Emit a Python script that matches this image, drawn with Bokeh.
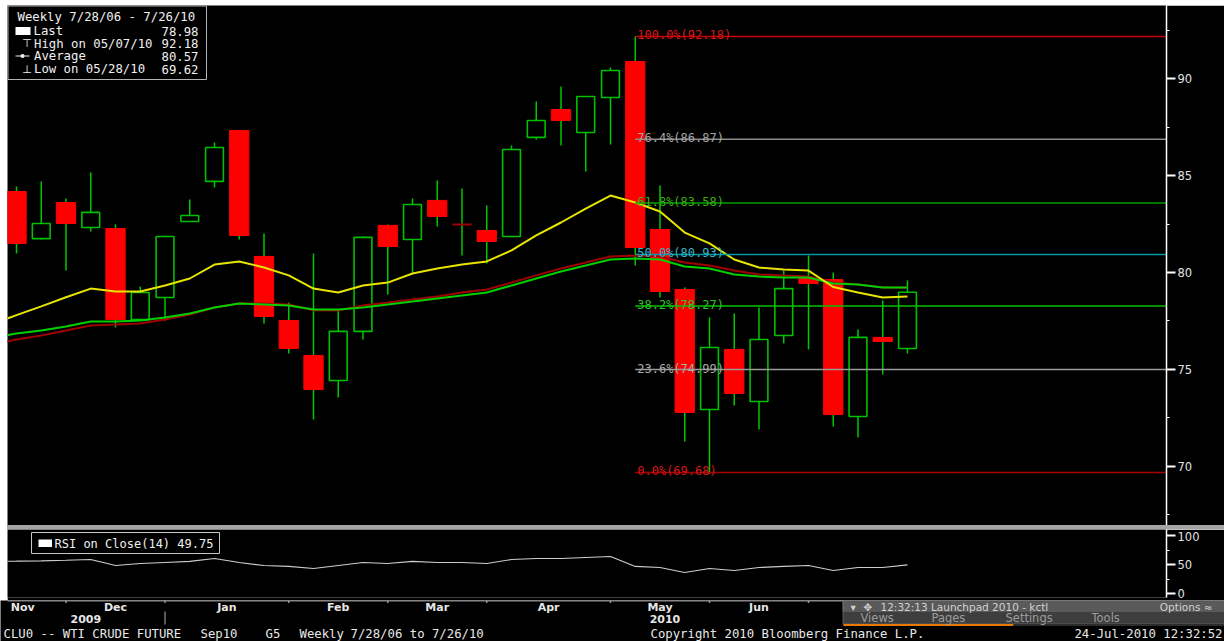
from bokeh.plotting import figure
from bokeh.models import Range1d, FixedTicker, ColumnDataSource, Div
from bokeh.layouts import column
from bokeh.embed import file_html
from bokeh.resources import INLINE
from bokeh.core.properties import value

# ---------------- data (weekly CLU0 candles) ----------------
opens  = [84.18, 81.75, 83.61, 82.32, 82.27, 77.57, 78.71, 82.63, 84.70, 87.33,
          80.83, 77.52, 75.72, 74.43, 76.96, 82.43, 81.70, 83.72, 82.48, 82.17,
          81.86, 86.97, 88.41, 87.22, 89.03, 90.89, 82.22, 79.12, 72.93, 76.03,
          73.34, 76.75, 79.69, 79.64, 72.57, 76.65, 76.08]
highs  = [84.44, 84.70, 83.82, 85.16, 82.48, 79.28, 81.90, 83.77, 86.71, 87.33,
          82.01, 78.45, 80.98, 78.04, 81.86, 82.48, 83.82, 84.75, 84.33, 83.46,
          86.55, 88.82, 89.60, 89.10, 90.58, 92.18, 84.49, 79.23, 77.68, 77.88,
          78.19, 80.10, 80.88, 80.00, 77.06, 78.56, 79.59]
lows   = [80.98, 81.70, 80.10, 82.12, 77.16, 77.52, 77.52, 82.63, 84.39, 81.70,
          77.37, 75.82, 72.41, 73.55, 76.54, 78.86, 79.95, 82.37, 80.88, 80.46,
          81.86, 86.86, 86.55, 85.21, 86.60, 80.36, 78.71, 71.28, 69.62, 73.14,
          71.90, 76.34, 76.03, 72.05, 71.49, 74.74, 75.82]
closes = [81.50, 82.53, 82.53, 83.10, 77.57, 78.97, 81.86, 82.94, 86.45, 81.91,
          77.73, 76.08, 73.96, 76.96, 81.81, 81.34, 83.51, 82.89, 82.48, 81.60,
          86.35, 87.84, 87.84, 89.08, 90.42, 81.29, 79.02, 72.78, 76.13, 73.76,
          76.54, 79.17, 79.43, 72.67, 76.65, 76.44, 78.98]

# moving averages / RSI (first point is the week just left of the visible window)
ma_fast = [77.33, 77.80, 78.25, 78.72, 79.17, 79.02, 79.02, 79.33, 79.69, 80.41,
           80.57, 80.26, 79.85, 79.17, 78.97, 79.33, 79.48, 79.95, 80.21, 80.41,
           80.57, 81.14, 81.91, 82.58, 83.30, 83.97, 83.61, 83.15, 82.06, 81.50,
           80.67, 80.26, 80.15, 80.10, 79.25, 78.97, 78.71, 78.76]
ma_mid  = [76.61, 76.85, 77.01, 77.21, 77.47, 77.47, 77.52, 77.68, 77.88, 78.19,
           78.40, 78.35, 78.30, 78.09, 78.09, 78.19, 78.35, 78.50, 78.66, 78.81,
           78.97, 79.33, 79.69, 80.05, 80.36, 80.67, 80.72, 80.67, 80.31, 80.21,
           79.90, 79.79, 79.74, 79.74, 79.43, 79.38, 79.23, 79.23]
ma_slow = [76.28, 76.54, 76.75, 77.01, 77.27, 77.32, 77.37, 77.57, 77.83, 78.19,
           78.40, 78.40, 78.35, 78.05, 78.04, 78.30, 78.45, 78.61, 78.76, 78.97,
           79.12, 79.48, 79.85, 80.21, 80.52, 80.83, 80.88, 80.83, 80.52, 80.36,
           80.10, 79.90, 79.85, 79.79, 79.48, 79.38, 79.23, 79.23]
rsi     = [56.0, 56.2, 56.9, 57.8, 59.1, 48.7, 52.2, 53.9, 55.7, 60.9,
           53.9, 48.7, 47.0, 43.5, 48.7, 53.9, 52.2, 55.7, 53.9, 53.9,
           52.2, 59.1, 60.9, 60.9, 62.6, 64.3, 47.0, 45.2, 36.5, 43.5,
           40.0, 45.2, 47.0, 48.7, 40.0, 45.2, 45.2, 49.75]

fib_pct   = ["100.0%", "76.4%", "61.8%", "50.0%", "38.2%", "23.6%", "0.0%"]
fib_level = [92.18, 86.87, 83.58, 80.93, 78.27, 74.99, 69.68]

price_ticks = [70, 75, 80, 85, 90]
price_minor = [67.5, 72.5, 77.5, 82.5, 87.5, 92.5]
rsi_ticks = [0, 50, 100]
rsi_minor = [25, 75]

month_labels = ["Nov", "Dec", "Jan", "Feb", "Mar", "Apr", "May", "Jun"]
month_label_pos = [0.25, 4.0, 8.5, 13.0, 17.0, 21.5, 26.0, 30.0]
month_ticks = [2, 6, 11, 15, 19, 24, 28, 32]
year_labels = ["2009", "2010"]
year_label_pos = [2.8, 26.2]
year_break = 6

legend_title = "Weekly 7/28/06 - 7/26/10"
legend_names = ["Last", "High on 05/07/10", "Average", "Low on 05/28/10"]
legend_values = ["78.98", "92.18", "80.57", "69.62"]
rsi_title = "RSI on Close(14) 49.75"

footer_left = ["CLU0 -- WTI CRUDE FUTURE", "Sep10", "G5", "Weekly", "7/28/06 to 7/26/10"]
footer_copy = "Copyright 2010 Bloomberg Finance L.P."
footer_time = "24-Jul-2010 12:32:52"
launch_title = "12:32:13  Launchpad 2010 - kctl"
launch_tabs = ["Views", "Pages", "Settings", "Tools"]

# ---------------- styles / layout ----------------
FIB_LINE = ["#c80000", "#8c8c8c", "#00a000", "#0098a8", "#00c000", "#9a9a9a", "#a80000"]
FIB_TEXT = ["#d81818", "#a6a6a6", "#3cae10", "#38b4c8", "#2cc42c", "#aaaaaa", "#d81818"]
MONO = value("DejaVu Sans Mono")
SANS = value("DejaVu Sans")

X0, X1 = -0.364, 46.465        # candle-index range of the frame
P0, P1 = 66.945, 93.777        # price range of the frame
R0, R1 = -6.96, 111.3          # RSI range of the frame
FW, RB = 1159, 58              # frame width, right border
PPU = FW / (X1 - X0)

def style_axis(ax, ticks, minor):
    ax.ticker = FixedTicker(ticks=ticks, minor_ticks=minor)
    ax.axis_line_color = "white"
    ax.axis_line_width = 1.5
    ax.major_tick_line_color = "white"
    ax.major_tick_line_width = 2
    ax.major_tick_in = 0
    ax.major_tick_out = 9
    ax.minor_tick_line_color = "white"
    ax.minor_tick_in = 0
    ax.minor_tick_out = 3
    ax.major_label_text_color = "#e2e2e2"
    ax.major_label_text_font = "DejaVu Sans"
    ax.major_label_text_font_size = "11.5px"
    ax.major_label_standoff = 2

def base_fig(w, h, xr, yr, rb, axis_right=True, bb=0):
    p = figure(width=w, height=h, x_range=xr, y_range=yr,
               output_backend="svg", toolbar_location=None,
               x_axis_location=None, y_axis_location="right" if axis_right else None,
               min_border_left=0, min_border_right=rb, min_border_top=0, min_border_bottom=bb,
               background_fill_color="black", border_fill_color="black",
               outline_line_color=None)
    p.grid.visible = False
    return p

# ---------------- price panel ----------------
pA = base_fig(FW + RB, 520, Range1d(X0, X1), Range1d(P0, P1), RB)
pA.extra_x_ranges = {"px": Range1d(0, FW)}
pA.extra_y_ranges = {"px": Range1d(520, 0)}
style_axis(pA.yaxis[0], price_ticks, price_minor)

week = list(range(len(opens)))
line_x = list(range(-1, len(opens)))

pA.segment(x0=week, y0=lows, x1=week, y1=highs, line_color="#00c800", line_width=1.5)

up = [i for i in week if closes[i] > opens[i]]
dn = [i for i in week if closes[i] < opens[i]]
fl = [i for i in week if closes[i] == opens[i]]
pA.vbar(x=dn, width=0.78, top=[opens[i] for i in dn], bottom=[closes[i] for i in dn],
        fill_color="#ff0000", line_color="#ff0000", line_width=1)
pA.vbar(x=up, width=0.72, top=[closes[i] for i in up], bottom=[opens[i] for i in up],
        fill_color="black", line_color="#00c000", line_width=1.6)
pA.segment(x0=[i - 0.39 for i in fl], x1=[i + 0.39 for i in fl],
           y0=[opens[i] for i in fl], y1=[opens[i] for i in fl],
           line_color="#a00000", line_width=2)

pA.line(line_x, ma_slow, line_color="#a00000", line_width=2)
pA.line(line_x, ma_mid, line_color="#00d000", line_width=2)
pA.line(line_x, ma_fast, line_color="#e8e400", line_width=2)

fib_start = highs.index(max(highs))
fsrc = ColumnDataSource(dict(
    x0=[fib_start] * len(fib_level), x1=[X1] * len(fib_level), y=fib_level,
    lc=FIB_LINE, tc=FIB_TEXT,
    label=["%s(%.2f)" % (p, v) for p, v in zip(fib_pct, fib_level)]))
pA.segment(x0="x0", x1="x1", y0="y", y1="y", line_color="lc", line_width=1.5, source=fsrc)
pA.text(x="x0", y="y", text="label", text_color="tc", text_font=MONO,
        text_font_size="12px", text_baseline="alphabetic", x_offset=2, y_offset=-1,
        source=fsrc)

# legend box (pixel coordinates inside the frame)
pA.quad(left=0.5, right=199, top=0.5, bottom=74, fill_color="black",
        line_color="#b4b4b4", line_width=1, x_range_name="px", y_range_name="px")
pA.text(x=[10], y=[11.5], text=[legend_title], text_color="#f0f0f0", text_font=MONO,
        text_font_size="12.3px", text_baseline="middle", x_range_name="px", y_range_name="px")
rows_y = [25.5, 38.0, 50.5, 63.5]
pA.text(x=[26, 26.5, 26.5, 26.5], y=rows_y, text=legend_names, text_color="#f0f0f0",
        text_font=MONO, text_font_size="12.3px", text_baseline="middle",
        x_range_name="px", y_range_name="px")
pA.text(x=[191] * 4, y=rows_y, text=legend_values, text_color="#f0f0f0", text_font=MONO,
        text_font_size="12.3px", text_baseline="middle", text_align="right",
        x_range_name="px", y_range_name="px")
pA.quad(left=8, right=23, top=21.5, bottom=29.5, fill_color="white", line_color=None,
        x_range_name="px", y_range_name="px")
pA.text(x=[19.5, 19.5], y=[38.0, 63.5], text=["⊤", "⊥"], text_color="#f0f0f0", text_font=SANS,
        text_font_size="11px", text_baseline="middle", text_align="center",
        x_range_name="px", y_range_name="px")
pA.segment(x0=[8], x1=[22], y0=[50.5], y1=[50.5], line_color="#f0f0f0", line_width=1,
           x_range_name="px", y_range_name="px")
pA.scatter(x=[15], y=[50.5], size=4, fill_color="#f0f0f0", line_color=None,
           x_range_name="px", y_range_name="px")

# ---------------- separator ----------------
sep = Div(width=FW + RB, height=4, margin=(0, 0, 0, 0),
          styles={"background-color": "#a4a4a4"})

# ---------------- RSI panel ----------------
pB = base_fig(FW + RB, 71, Range1d(X0, X1), Range1d(R0, R1), RB, bb=3)
pB.extra_x_ranges = {"px": Range1d(0, FW)}
pB.extra_y_ranges = {"px": Range1d(68, 0)}
style_axis(pB.yaxis[0], rsi_ticks, rsi_minor)
pB.line(line_x, rsi, line_color="#cccccc", line_width=1.2)
pB.quad(left=24, right=212, top=3, bottom=24, fill_color="black", line_color="#c8c8c8",
        line_width=1, x_range_name="px", y_range_name="px")
pB.quad(left=31, right=44.5, top=10, bottom=17.5, fill_color="white", line_color=None,
        x_range_name="px", y_range_name="px")
pB.text(x=[47], y=[14], text=[rsi_title], text_color="#f0f0f0", text_font=MONO,
        text_font_size="12px", text_baseline="middle", x_range_name="px", y_range_name="px")

# ---------------- time axis + status bars (page y = 600 + y) ----------------
pC = base_fig(1224, 41, Range1d(X0 - 7 / PPU, X1 + 58 / PPU), Range1d(41, 0), 0,
              axis_right=False)
pC.extra_x_ranges = {"px": Range1d(0, 1224)}
pC.segment(x0=[7], x1=[1166], y0=[0], y1=[0], line_color="#8c8c8c", line_width=2,
           x_range_name="px")
pC.segment(x0=month_ticks, x1=month_ticks, y0=[0] * len(month_ticks),
           y1=[2.5] * len(month_ticks), line_color="#9a9a9a", line_width=1.5)
pC.text(x=month_label_pos, y=[7] * len(month_labels), text=month_labels,
        text_color="#e6e6e6", text_font=SANS, text_font_size="11px",
        text_font_style="bold", text_align="center", text_baseline="middle")
pC.text(x=year_label_pos, y=[18.5] * len(year_labels), text=year_labels,
        text_color="#e6e6e6", text_font=SANS, text_font_size="11px",
        text_font_style="bold", text_align="center", text_baseline="middle")
pC.segment(x0=[year_break], x1=[year_break], y0=[11], y1=[24], line_color="#b0b0b0",
           line_width=1)

# launchpad bar
pC.quad(left=842.5, right=1224, top=0, bottom=11, fill_color="#5a5a5a",
        line_color="#7c7c7c", line_width=1, x_range_name="px")
pC.quad(left=842.5, right=1224, top=11, bottom=23.5, fill_color="#3e3e3e",
        line_color="#5a5a5a", line_width=1, x_range_name="px")
pC.segment(x0=[843, 1013], x1=[1013, 1224], y0=[24.5, 24.5], y1=[24.5, 24.5],
           line_color=["#e87a00", "#2c2c2c"], line_width=2, x_range_name="px")
pC.text(x=[850, 863, 880], y=[6, 6, 6], text=["▾", "✥", launch_title],
        text_color="#d2d2d2", text_font=SANS, text_font_size="10.5px",
        text_baseline="middle", x_range_name="px")
pC.text(x=[1212], y=[6], text=["Options ≈"], text_color="#d2d2d2", text_font=SANS,
        text_font_size="10.5px", text_baseline="middle", text_align="right",
        x_range_name="px")
pC.text(x=[860, 931, 1005, 1091], y=[17.5] * 4, text=launch_tabs, text_color="#9c9c9c",
        text_font=SANS, text_font_size="11.5px", text_baseline="middle", x_range_name="px")

# footer line
pC.text(x=[3, 200, 265, 299, 350], y=[33] * 5, text=footer_left, text_color="#e8e8e8",
        text_font=MONO, text_font_size="12.3px", text_baseline="middle", x_range_name="px")
pC.text(x=[650], y=[33], text=[footer_copy], text_color="#e8e8e8", text_font=MONO,
        text_font_size="12.3px", text_baseline="middle", x_range_name="px")
pC.text(x=[1222], y=[33], text=[footer_time], text_color="#e8e8e8", text_font=MONO,
        text_font_size="12.3px", text_baseline="middle", text_align="right",
        x_range_name="px")

inner = column(pA, sep, pB, margin=(5, 0, 0, 7), spacing=0)
layout = column(inner, pC, spacing=0)

open("out.html", "w").write(file_html(layout, INLINE))
